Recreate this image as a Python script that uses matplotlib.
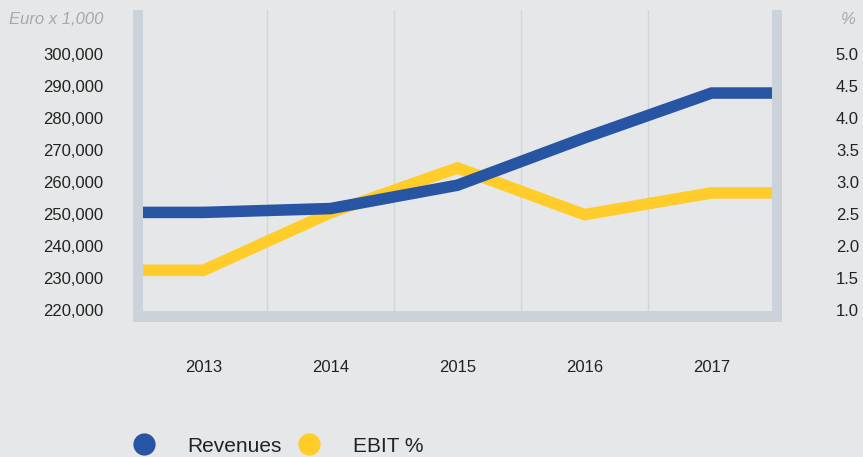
import matplotlib
matplotlib.use("Agg")
import matplotlib.pyplot as plt
from matplotlib.lines import Line2D
from matplotlib.patches import Rectangle
from matplotlib.ticker import FuncFormatter

plt.rcParams['font.family'] = ['Liberation Sans', 'DejaVu Sans']

years = ["2013", "2014", "2015", "2016", "2017"]
revenues = [250500, 251700, 259000, 273800, 287800]
ebit_pct = [1.62, 2.52, 3.22, 2.49, 2.83]
rev_ticks = [220000, 230000, 240000, 250000, 260000, 270000, 280000, 290000, 300000]
pct_ticks = [1.0, 1.5, 2.0, 2.5, 3.0, 3.5, 4.0, 4.5, 5.0]

BG = "#e6e7e8"
BAND = "#cbd2d9"
GRID = "#d2d6da"
BLUE = "#2855a3"
YELLOW = "#ffcc2a"
TXT = "#222222"

W, H = 863, 457
fig = plt.figure(figsize=(W / 100, H / 100), dpi=100, facecolor=BG)

def px_rect(x0, y0, x1, y1):
    return [x0 / W, 1 - y1 / H, (x1 - x0) / W, (y1 - y0) / H]

rect = px_rect(143, 10, 772, 311)
ax_e = fig.add_axes(rect)
ax_r = fig.add_axes(rect, sharex=ax_e)
for a in (ax_e, ax_r):
    a.set_facecolor("none")
    for s in a.spines.values():
        s.set_visible(False)
ax_e.set_facecolor(BG)

# frame bands
for (x0, y0, x1, y1) in [(133, 10, 143, 322), (772, 10, 782, 322), (133, 311, 782, 322)]:
    fig.add_artist(Rectangle((x0 / W, 1 - y1 / H), (x1 - x0) / W, (y1 - y0) / H,
                             transform=fig.transFigure, facecolor=BAND, edgecolor="none", zorder=0.5))

xpos = list(range(len(years)))
half = 0.476
xmin, xmax = xpos[0] - half, xpos[-1] + half
ax_e.set_xlim(xmin, xmax)

# y scales: 3.2 px per 1000 euro, 64 px per 1 %
ax_r.set_ylim(220000 - 1 / 3.2 * 1000, 300000 + 44 / 3.2 * 1000)
ax_e.set_ylim(1.0 - 1 / 64, 5.0 + 44 / 64)

# vertical grid between categories
for b in [p + 0.5 for p in xpos[:-1]]:
    ax_e.axvline(b, color=GRID, lw=1.0, zorder=1)

xs = [xmin] + xpos + [xmax]
ax_e.plot(xs, [ebit_pct[0]] + ebit_pct + [ebit_pct[-1]], color=YELLOW, lw=8.3, solid_joinstyle="miter", zorder=3)
ax_r.plot(xs, [revenues[0]] + revenues + [revenues[-1]], color=BLUE, lw=8.3, solid_joinstyle="miter", zorder=3)

# ticks
ax_e.set_xticks(xpos)
ax_e.set_xticklabels(years)
ax_e.tick_params(axis="x", length=0, pad=35, labelsize=12, labelcolor=TXT)
ax_r.tick_params(axis="x", bottom=False, labelbottom=False)

ax_r.set_yticks(rev_ticks)
ax_r.yaxis.set_major_formatter(FuncFormatter(lambda v, p: f"{int(v):,}"))
ax_r.yaxis.tick_left()
ax_r.tick_params(axis="y", length=0, pad=28.8, labelsize=12, labelcolor=TXT)

ax_e.set_yticks(pct_ticks)
ax_e.yaxis.set_major_formatter(FuncFormatter(lambda v, p: f"{v:.1f}"))
ax_e.yaxis.tick_right()
ax_e.tick_params(axis="y", length=0, pad=46, labelsize=12, labelcolor=TXT)

fig.text(103 / W, 1 - 20 / H, "Euro x 1,000", ha="right", va="center", fontsize=12,
         style="italic", color="#a8a8a8")
fig.text(856 / W, 1 - 20 / H, "%", ha="right", va="center", fontsize=12,
         style="italic", color="#a8a8a8")

handles = [Line2D([], [], marker="o", ls="none", ms=16, color=BLUE, markeredgewidth=0),
           Line2D([], [], marker="o", ls="none", ms=16, color=YELLOW, markeredgewidth=0)]
fig.legend(handles, ["Revenues", "EBIT %"], loc="center left",
           bbox_to_anchor=(123 / W, 1 - 446 / H), ncol=2, frameon=False,
           fontsize=15, handlelength=2.0, handletextpad=1.07, columnspacing=0.35,
           borderpad=0, borderaxespad=0, labelcolor=TXT)

fig.savefig("out.png", dpi=100, facecolor=BG)
